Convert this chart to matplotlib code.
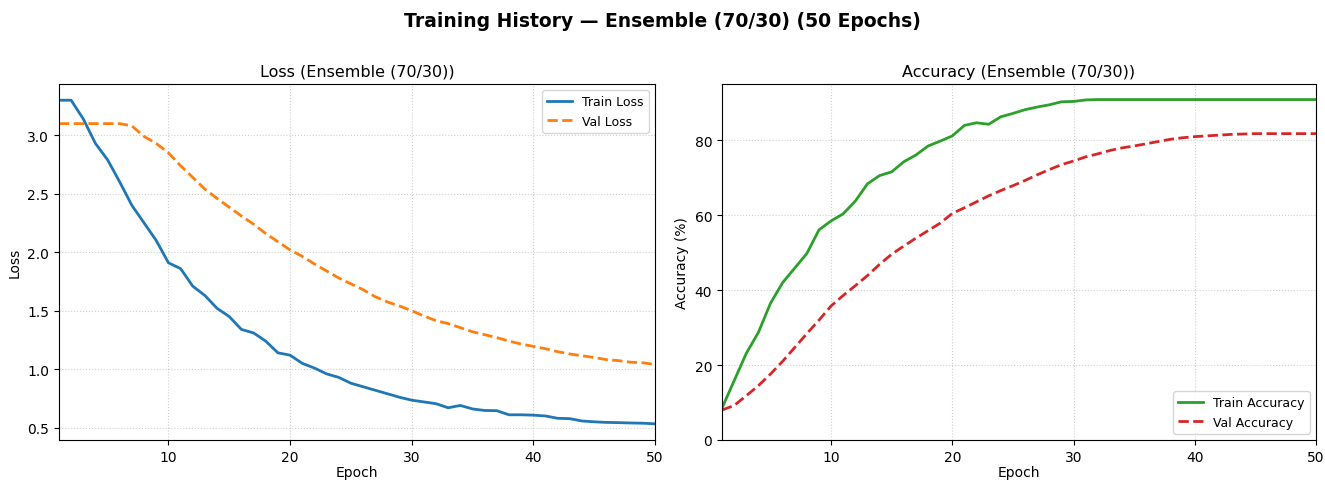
import numpy as np
import matplotlib
matplotlib.use("Agg")
import matplotlib.pyplot as plt

epochs = list(range(1, 51))

train_loss = [3.30, 3.30, 3.14, 2.93, 2.79, 2.60, 2.40, 2.25, 2.10, 1.91,
              1.86, 1.71, 1.63, 1.52, 1.45, 1.34, 1.31, 1.24, 1.14, 1.12,
              1.05, 1.01, 0.96, 0.93, 0.88, 0.85, 0.82, 0.79, 0.76, 0.735,
              0.72, 0.705, 0.67, 0.69, 0.66, 0.647, 0.645, 0.61, 0.61, 0.607,
              0.60, 0.58, 0.577, 0.557, 0.55, 0.545, 0.543, 0.54, 0.538, 0.533]

val_loss = [3.10, 3.10, 3.10, 3.10, 3.10, 3.10, 3.08, 2.99, 2.93, 2.85,
            2.74, 2.64, 2.54, 2.46, 2.385, 2.31, 2.24, 2.16, 2.09, 2.02,
            1.965, 1.90, 1.84, 1.78, 1.73, 1.68, 1.62, 1.575, 1.54, 1.50,
            1.455, 1.415, 1.39, 1.355, 1.32, 1.295, 1.27, 1.24, 1.215, 1.195,
            1.175, 1.15, 1.13, 1.115, 1.10, 1.082, 1.073, 1.06, 1.055, 1.04]

train_acc = [8.5, 15.8, 23.1, 28.7, 36.5, 42.0, 45.9, 49.8, 56.1, 58.5,
             60.4, 63.8, 68.4, 70.6, 71.6, 74.3, 76.1, 78.5, 79.8, 81.2,
             84.0, 84.7, 84.3, 86.3, 87.2, 88.2, 88.9, 89.5, 90.3, 90.4,
             90.8, 90.9, 90.9, 90.9, 90.9, 90.9, 90.9, 90.9, 90.9, 90.9,
             90.9, 90.9, 90.9, 90.9, 90.9, 90.9, 90.9, 90.9, 90.9, 90.9]

val_acc = [8.0, 9.2, 11.8, 14.5, 17.6, 21.0, 24.7, 28.4, 32.0, 35.8,
           38.6, 41.2, 43.9, 46.9, 49.6, 51.8, 53.9, 55.9, 57.9, 60.5,
           62.0, 63.6, 65.2, 66.6, 67.9, 69.3, 70.8, 72.2, 73.5, 74.5,
           75.6, 76.4, 77.3, 78.0, 78.5, 79.1, 79.7, 80.3, 80.7, 81.0,
           81.2, 81.4, 81.6, 81.7, 81.8, 81.8, 81.8, 81.8, 81.8, 81.8]

fig = plt.figure(figsize=(13.25, 4.81), dpi=100)
ax_loss = fig.add_axes([0.0445, 0.0832, 0.4498, 0.740])
ax_acc = fig.add_axes([0.5449, 0.0832, 0.4483, 0.740])

fig.suptitle("Training History \u2014 Ensemble (70/30) (50 Epochs)",
             fontsize=13.5, fontweight="bold", y=0.976)

# Loss panel
ax_loss.plot(epochs, train_loss, color="#1f77b4", lw=2, label="Train Loss")
ax_loss.plot(epochs, val_loss, color="#ff7f0e", lw=2, ls="--", label="Val Loss")
ax_loss.set_title("Loss (Ensemble (70/30))", fontsize=11.5)
ax_loss.set_xlabel("Epoch", labelpad=1)
ax_loss.set_ylabel("Loss")
ax_loss.set_xlim(1, 50)
ax_loss.grid(True, ls=":", alpha=0.6)
ax_loss.legend(loc="upper right", fontsize=9)

# Accuracy panel
ax_acc.plot(epochs, train_acc, color="#2ca02c", lw=2, label="Train Accuracy")
ax_acc.plot(epochs, val_acc, color="#d62728", lw=2, ls="--", label="Val Accuracy")
ax_acc.set_title("Accuracy (Ensemble (70/30))", fontsize=11.5)
ax_acc.set_xlabel("Epoch", labelpad=1)
ax_acc.set_ylabel("Accuracy (%)")
ax_acc.set_xlim(1, 50)
ax_acc.set_ylim(bottom=0)
ax_acc.grid(True, ls=":", alpha=0.6)
ax_acc.legend(loc="lower right", fontsize=9)

fig.savefig("out.png", dpi=100)
